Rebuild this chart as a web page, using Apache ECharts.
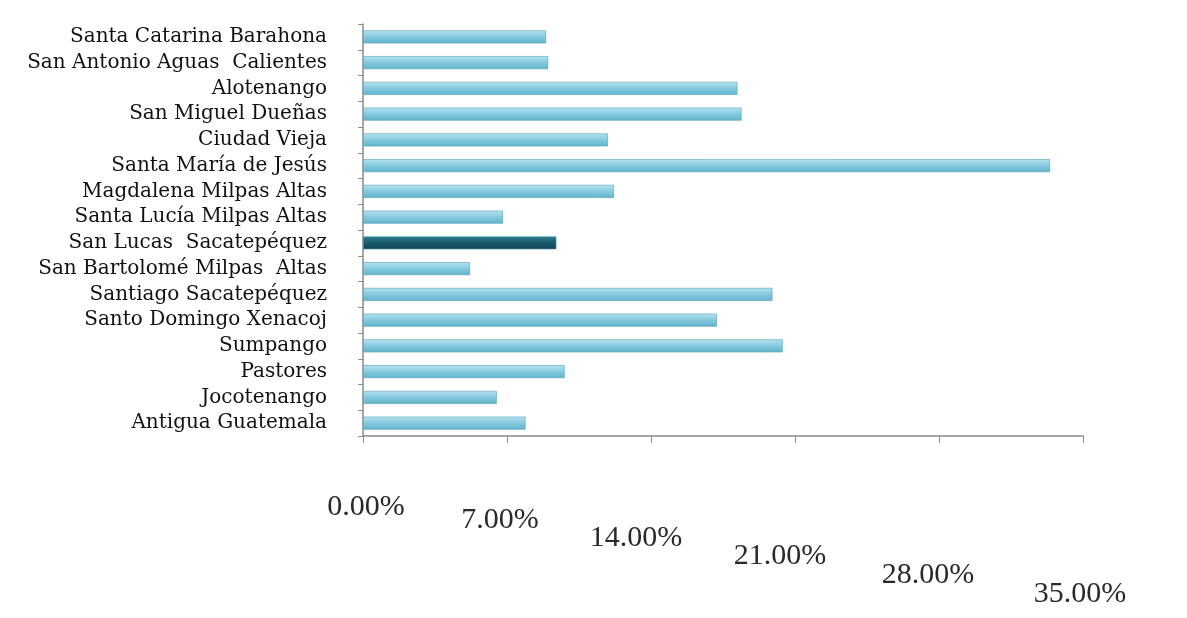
<!DOCTYPE html>
<html>
<head>
<meta charset="utf-8">
<script src="https://cdn.jsdelivr.net/npm/echarts@6/dist/echarts.min.js"></script>
<style>
  html, body { margin: 0; padding: 0; background: #fff; }
  #chart { width: 1187px; height: 618px; }
</style>
</head>
<body>
<div id="chart"></div>
<script>
// municipios, de arriba hacia abajo
var municipios = [
  "Santa Catarina Barahona",
  "San Antonio Aguas  Calientes",
  "Alotenango",
  "San Miguel Dueñas",
  "Ciudad Vieja",
  "Santa María de Jesús",
  "Magdalena Milpas Altas",
  "Santa Lucía Milpas Altas",
  "San Lucas  Sacatepéquez",
  "San Bartolomé Milpas  Altas",
  "Santiago Sacatepéquez",
  "Santo Domingo Xenacoj",
  "Sumpango",
  "Pastores",
  "Jocotenango",
  "Antigua Guatemala"
];
// porcentaje por municipio
var porcentajes = [8.9, 9.0, 18.2, 18.4, 11.9, 33.4, 12.2, 6.8, 9.4, 5.2, 19.9, 17.2, 20.4, 9.8, 6.5, 7.9];
// municipio resaltado
var resaltado = "San Lucas  Sacatepéquez";
// marcas del eje x
var ejeMin = 0, ejeMax = 35, ejePaso = 7;

function $each(arr, fn) {
  for (var i = 0; i < arr.length; i++) { fn(i, arr[i]); }
}

var colorBarra = new echarts.graphic.LinearGradient(0, 0, 0, 1, [
  { offset: 0, color: "#b8e3ef" },
  { offset: 0.45, color: "#88cce0" },
  { offset: 1, color: "#62b3ca" }
]);
var colorResaltado = new echarts.graphic.LinearGradient(0, 0, 0, 1, [
  { offset: 0, color: "#2f7f93" },
  { offset: 0.5, color: "#18596b" },
  { offset: 1, color: "#0f4555" }
]);

var datos = [];
$each(municipios, function (i, nombre) {
  datos.push({
    value: porcentajes[i],
    itemStyle: { color: nombre === resaltado ? colorResaltado : colorBarra }
  });
});

// desplazamiento de las etiquetas del eje x para imitar la perspectiva
// [bajada, relleno derecho, relleno izquierdo]
var desplaza = [[0, 0, 6], [13, 14, 0], [31, 30, 0], [49, 30, 0], [68, 22, 0], [87, 6, 0]];
var ricos = {};
$each(desplaza, function (i, d) {
  ricos["r" + i] = {
    fontFamily: "Liberation Serif",
    fontSize: 30,
    color: "#2a2a2a",
    padding: [d[0], d[1], 0, d[2]]
  };
});

var myChart = echarts.init(document.getElementById("chart"));
var option = {
  animation: false,
  backgroundColor: "#fff",
  grid: { left: 363, right: 104, top: 24, bottom: 182, containLabel: false },
  xAxis: {
    type: "value",
    min: ejeMin,
    max: ejeMax,
    interval: ejePaso,
    axisLine: { show: true, lineStyle: { color: "#8a8a8a", width: 1.5 } },
    axisTick: { show: true, length: 7, lineStyle: { color: "#8a8a8a" } },
    splitLine: { show: false },
    axisLabel: {
      margin: 56,
      formatter: function (v) {
        var i = Math.round(v / ejePaso);
        return "{r" + i + "|" + v.toFixed(2) + "%}";
      },
      rich: ricos
    }
  },
  yAxis: {
    type: "category",
    inverse: true,
    data: municipios,
    axisLine: { show: true, lineStyle: { color: "#8a8a8a", width: 1.5 } },
    axisTick: { show: true, length: 5, interval: 0, lineStyle: { color: "#8a8a8a" } },
    axisLabel: {
      interval: 0,
      margin: 36,
      fontFamily: "DejaVu Serif",
      fontSize: 20,
      lineHeight: 22,
      color: "#111"
    }
  },
  series: [{
    type: "bar",
    data: datos,
    barWidth: 13,
    itemStyle: { borderColor: "#4e9fb7", borderWidth: 0.6 }
  }]
};
myChart.setOption(option, true);
</script>
</body>
</html>
